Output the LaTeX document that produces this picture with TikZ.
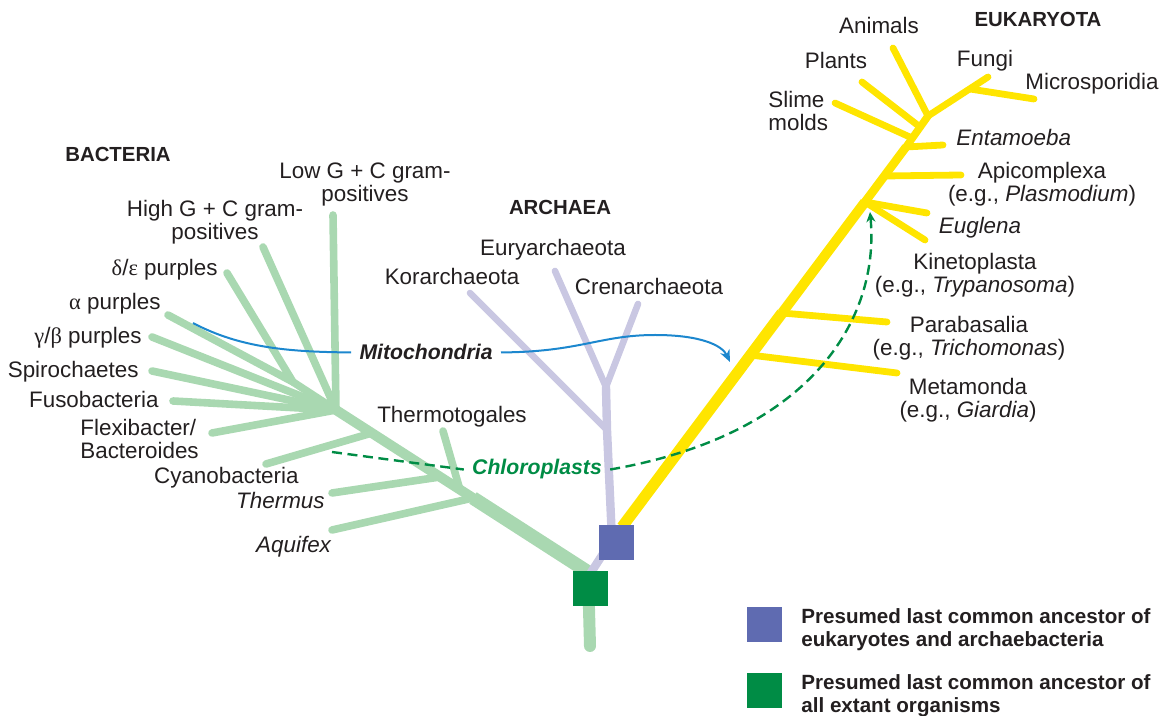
\documentclass[tikz,border=0pt]{standalone}
\usepackage{fontspec}
\setmainfont{Liberation Sans}
\newfontfamily\grk{Liberation Serif}
\usetikzlibrary{arrows.meta}
\definecolor{bactgreen}{HTML}{A9D8B1}
\definecolor{archlilac}{HTML}{C9C7E2}
\definecolor{eukyellow}{HTML}{FFE500}
\definecolor{ancblue}{HTML}{5F6BB1}
\definecolor{ancgreen}{HTML}{008C45}
\definecolor{mitoblue}{HTML}{1C87CE}
\definecolor{inkgray}{HTML}{231F20}
\begin{document}
\begin{tikzpicture}[x=0.5pt,y=-0.5pt,font=\fontsize{11.2}{11.5}\selectfont,text=inkgray,
	bact/.style={draw=bactgreen,line width=3.8pt,line cap=round},
	arch/.style={draw=archlilac,line width=3.3pt,line cap=round},
	euk/.style={draw=eukyellow,line width=3.4pt,line cap=round},
	grp/.style={font=\fontsize{10.2}{11}\selectfont\bfseries,inner sep=0pt,anchor=base},
	lab/.style={inner sep=0pt},
	two/.style={align=center,inner sep=0pt},
	anc/.style={minimum size=17.5pt,inner sep=0pt},
	keytxt/.style={font=\fontsize{10.3}{11.5}\selectfont\bfseries,align=left,anchor=west,inner sep=0pt},
	transfer/.style={font=\fontsize{10.6}{12}\selectfont\bfseries\itshape,inner xsep=4pt,inner ysep=0pt}]
	\useasboundingbox (0,0) rectangle (1164,716);
	\path (588,572) coordinate (bR)
	(590,646) coordinate (bS)
	(473,498) coordinate (bAq)
	(460,490) coordinate (bTt)
	(440,477) coordinate (bTh)
	(372,433) coordinate (bCy)
	(336,410) coordinate (bTop)
	(293,382) coordinate (bPu)
	(332,530) coordinate (tAq)
	(332,493) coordinate (tTh)
	(443,431) coordinate (tTt)
	(266,464) coordinate (tCy)
	(212,433) coordinate (tFl)
	(173,401) coordinate (tFu)
	(152,371) coordinate (tSp)
	(152,337) coordinate (tGa)
	(168,315) coordinate (tAl)
	(227,273) coordinate (tDe)
	(263,247) coordinate (tHi)
	(333,215) coordinate (tLo)
	;
	\path (590,574) coordinate (aR)
	(612,540) coordinate (aB)
	(607,430) coordinate (aKo)
	(606,387) coordinate (aEC)
	(470,293) coordinate (tKo)
	(555,271) coordinate (tEy)
	(638,304) coordinate (tCr)
	;
	\path (622,527) coordinate (eR)
	(750,355) coordinate (eMe)
	(782,313) coordinate (ePa)
	(865,202) coordinate (eKi)
	(884,176) coordinate (eAp)
	(906,147) coordinate (eEn)
	(912,138) coordinate (eSl)
	(920,127) coordinate (ePl)
	(928,116) coordinate (eTop)
	(970,89) coordinate (eFu)
	(897,373) coordinate (tMe)
	(887,322) coordinate (tPa)
	(925,240) coordinate (tKi)
	(927,213) coordinate (tEu)
	(961,175) coordinate (tAp)
	(943,145) coordinate (tEn)
	(835,103) coordinate (tSl)
	(862,82) coordinate (tPl)
	(893,48) coordinate (tAn)
	(988,77) coordinate (tFu2)
	(1034,99) coordinate (tMi)
	;
	\foreach \a/\b in {bAq/tAq,bTh/tTh,bTt/tTt,bCy/tCy,bTop/tFl,bTop/tFu,bTop/tSp,bTop/tGa,bPu/tAl,bPu/tDe,bTop/tHi,bTop/tLo}{\draw[bact] (\a)--(\b);}
	\draw[bact] (bTop)--(bPu);
	\draw[bact,line width=5pt] (bTop)--(bAq);
	\draw[bact,line width=6.8pt,line cap=butt] (bR)--(bAq);
	\draw[bact,line width=6pt] (bR)--(bS);
	\foreach \a/\b in {aKo/tKo,aEC/tEy,aEC/tCr}{\draw[arch] (\a)--(\b);}
	\draw[arch,line width=4.2pt,line join=round] (aR)--(aB)--(aKo)--(aEC);
	\foreach \a/\b in {eMe/tMe,ePa/tPa,eKi/tKi,eKi/tEu,eAp/tAp,eEn/tEn,eSl/tSl,ePl/tPl,eTop/tAn,eTop/tFu2,eFu/tMi}{\draw[euk] (\a)--(\b);}
	\draw[euk,line width=5.6pt,line cap=butt] (eR)--(ePa);
	\draw[euk,line width=5pt,line cap=butt] (ePa)--(eKi);
	\draw[euk,line width=4.3pt,line cap=butt] (eKi)--(eEn);
	\draw[euk,line width=3.8pt] (eEn)--(eTop);
	\node[anc,fill=ancblue] (lcaEA) at (616,543) {};
	\node[anc,fill=ancgreen] (lcaAll) at (590,589) {};
	\node[grp] (bactT) at (118,162) {BACTERIA};
	\node[two] (lLowGC) at (365,185) {Low G + C gram-\\positives};
	\node[two] (lHighGC) at (215,222) {High G + C gram-\\positives};
	\node[lab,anchor=base east] (lDelta) at (218,276) {{\grk δ}/{\grk ε} purples};
	\node[lab,anchor=base east] (lAlpha) at (161,310) {{\grk α} purples};
	\node[lab,anchor=base east] (lGamma) at (142,344) {{\grk γ}/{\grk β} purples};
	\node[lab,anchor=base east] (lSpiro) at (139,378) {Spirochaetes};
	\node[lab,anchor=base east] (lFuso) at (159,408) {Fusobacteria};
	\node[two,align=left,anchor=west] (lFlex) at (80,439) {Flexibacter/\\Bacteroides};
	\node[lab,anchor=base] (lThermo) at (452,423) {Thermotogales};
	\node[lab,anchor=base east] (lCyano) at (299,484) {Cyanobacteria};
	\node[lab,anchor=base east] (lThermus) at (325,509) {\textit{Thermus}};
	\node[lab,anchor=base east] (lAquifex) at (332,553) {\textit{Aquifex}};
	\node[grp] (archT) at (560,215) {ARCHAEA};
	\node[lab,anchor=base] (lEury) at (553,256) {Euryarchaeota};
	\node[lab,anchor=base] (lKor) at (452,285) {Korarchaeota};
	\node[lab,anchor=base] (lCren) at (649,295) {Crenarchaeota};
	\node[grp] (eukT) at (1038,27) {EUKARYOTA};
	\node[lab,anchor=base] (lAnim) at (879,34) {Animals};
	\node[lab,anchor=base] (lPlants) at (836,69) {Plants};
	\node[lab,anchor=base] (lFungi) at (985,67) {Fungi};
	\node[lab,anchor=base] (lMicro) at (1092,90) {Microsporidia};
	\node[two,align=left,anchor=west] (lSlime) at (768,111) {Slime\\molds};
	\node[lab,anchor=base west] (lEnt) at (956,146) {\textit{Entamoeba}};
	\node[two] (lApi) at (1042,184) {Apicomplexa\\(e.g., \textit{Plasmodium})};
	\node[lab,anchor=base] (lEug) at (980,234) {\textit{Euglena}};
	\node[two] (lKin) at (975,275) {Kinetoplasta\\(e.g., \textit{Trypanosoma})};
	\node[two] (lPara) at (969,338) {Parabasalia\\(e.g., \textit{Trichomonas})};
	\node[two] (lMeta) at (968,400) {Metamonda\\(e.g., \textit{Giardia})};
	\node[transfer,anchor=base east] (mito) at (501,360) {Mitochondria};
	\node[transfer,anchor=base,text=ancgreen] (chloro) at (537,475) {Chloroplasts};
	\coordinate (mitoS) at (193,323);
	\coordinate (mitoE) at (730,362);
	\coordinate (chlS) at (332,452);
	\coordinate (chlE) at (870,212);
	\draw[mitoblue,line width=1pt] (mitoS) .. controls (240,348) and (290,352) .. (mito.west);
	\draw[mitoblue,line width=1pt,-{Stealth[length=6pt,width=5pt]}] (mito.east) .. controls (580,352) and (600,335) .. (655,335) .. controls (700,335) and (722,345) .. (mitoE);
	\draw[ancgreen,line width=1.2pt,dash pattern=on 5pt off 2.8pt] (chlS)--(chloro.west);
	\draw[ancgreen,line width=1.2pt,dash pattern=on 5pt off 2.8pt,-{Stealth[length=5pt,width=4.5pt]}] (chloro.east) .. controls (810,435) and (880,320) .. (chlE);
	\node[anc,fill=ancblue] (keyEA) at (764,625) {};
	\node[anc,fill=ancgreen] (keyAll) at (764,691) {};
	\node[keytxt] (keyEAtxt) at (801,630) {Presumed last common ancestor of\\eukaryotes and archaebacteria};
	\node[keytxt] (keyAlltxt) at (801,696) {Presumed last common ancestor of\\all extant organisms};
\end{tikzpicture}
\end{document}
